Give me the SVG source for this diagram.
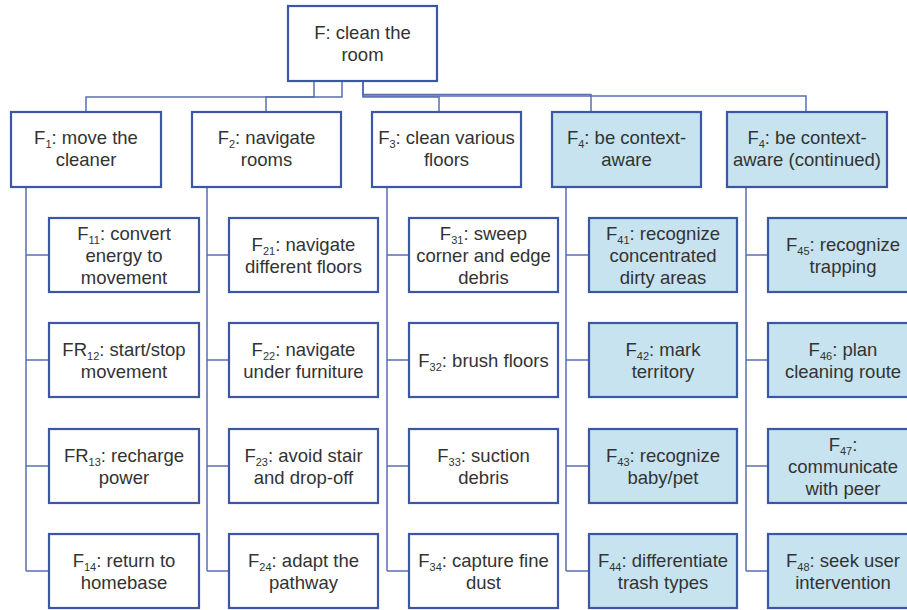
<svg xmlns="http://www.w3.org/2000/svg" width="907" height="610" viewBox="0 0 907 610">
<style>
.box{fill:#ffffff;stroke:#3b56a5;stroke-width:2.2}
.ctx{fill:#c6e3ef;stroke:#3b56a5;stroke-width:2.2}
.con{fill:none;stroke:#5a6fb3;stroke-width:1.5}
text{font-family:"Liberation Sans",Arial,sans-serif;font-size:18.5px;fill:#333333;text-anchor:middle}
.s{font-size:11px}
</style>
<rect width="907" height="610" fill="#ffffff"/>
<g id="connectors">
<path class="con" d="M314,81 V97 H86 V112"/>
<path class="con" d="M342,81 V97 H266 V112"/>
<path class="con" d="M363,81 V97 H439 V112"/>
<path class="con" d="M363,81 V94.5 H591 V112"/>
<path class="con" d="M363,81 V96 H806 V112"/>
<path class="con" d="M26,187 V571 M26,255 H49 M26,360 H49 M26,466 H49 M26,571 H49"/>
<path class="con" d="M207,187 V571 M207,255 H229 M207,360 H229 M207,466 H229 M207,571 H229"/>
<path class="con" d="M387,187 V571 M387,255 H409 M387,360 H409 M387,466 H409 M387,571 H409"/>
<path class="con" d="M566,187 V571 M566,255 H589 M566,360 H589 M566,466 H589 M566,571 H589"/>
<path class="con" d="M746,187 V571 M746,255 H768 M746,360 H768 M746,466 H768 M746,571 H768"/>
</g>
<g id="F">
<rect class="box" x="288" y="6" width="149" height="75"/>
<text x="362.5" y="38.5">F: clean the</text>
<text x="362.5" y="61">room</text>
</g>
<g id="F1">
<rect class="box" x="11" y="112" width="150" height="75"/>
<text x="86" y="143.5">F<tspan class="s" dy="4">1</tspan><tspan dy="-4">: move the</tspan></text>
<text x="86" y="166">cleaner</text>
</g>
<g id="F2">
<rect class="box" x="192" y="112" width="149" height="75"/>
<text x="266.5" y="143.5">F<tspan class="s" dy="4">2</tspan><tspan dy="-4">: navigate</tspan></text>
<text x="266.5" y="166">rooms</text>
</g>
<g id="F3">
<rect class="box" x="372" y="112" width="149" height="75"/>
<text x="446.5" y="143.5">F<tspan class="s" dy="4">3</tspan><tspan dy="-4">: clean various</tspan></text>
<text x="446.5" y="166">floors</text>
</g>
<g id="F4">
<rect class="ctx" x="552" y="112" width="149" height="75"/>
<text x="626.5" y="143.5">F<tspan class="s" dy="4">4</tspan><tspan dy="-4">: be context-</tspan></text>
<text x="626.5" y="166">aware</text>
</g>
<g id="F4c">
<rect class="ctx" x="727" y="112" width="160" height="75"/>
<text x="807" y="143.5">F<tspan class="s" dy="4">4</tspan><tspan dy="-4">: be context-</tspan></text>
<text x="807" y="166">aware (continued)</text>
</g>
<g id="F11">
<rect class="box" x="49" y="218" width="150" height="74"/>
<text x="124" y="239.5">F<tspan class="s" dy="4">11</tspan><tspan dy="-4">: convert</tspan></text>
<text x="124" y="261.5">energy to</text>
<text x="124" y="283.5">movement</text>
</g>
<g id="FR12">
<rect class="box" x="49" y="323" width="150" height="74"/>
<text x="124" y="355.5">FR<tspan class="s" dy="4">12</tspan><tspan dy="-4">: start/stop</tspan></text>
<text x="124" y="377.5">movement</text>
</g>
<g id="FR13">
<rect class="box" x="49" y="429" width="150" height="74"/>
<text x="124" y="461.5">FR<tspan class="s" dy="4">13</tspan><tspan dy="-4">: recharge</tspan></text>
<text x="124" y="483.5">power</text>
</g>
<g id="F14">
<rect class="box" x="49" y="534" width="150" height="74"/>
<text x="124" y="566.5">F<tspan class="s" dy="4">14</tspan><tspan dy="-4">: return to</tspan></text>
<text x="124" y="588.5">homebase</text>
</g>
<g id="F21">
<rect class="box" x="229" y="218" width="149" height="74"/>
<text x="303.5" y="250.5">F<tspan class="s" dy="4">21</tspan><tspan dy="-4">: navigate</tspan></text>
<text x="303.5" y="272.5">different floors</text>
</g>
<g id="F22">
<rect class="box" x="229" y="323" width="149" height="74"/>
<text x="303.5" y="355.5">F<tspan class="s" dy="4">22</tspan><tspan dy="-4">: navigate</tspan></text>
<text x="303.5" y="377.5">under furniture</text>
</g>
<g id="F23">
<rect class="box" x="229" y="429" width="149" height="74"/>
<text x="303.5" y="461.5">F<tspan class="s" dy="4">23</tspan><tspan dy="-4">: avoid stair</tspan></text>
<text x="303.5" y="483.5">and drop-off</text>
</g>
<g id="F24">
<rect class="box" x="229" y="534" width="149" height="74"/>
<text x="303.5" y="566.5">F<tspan class="s" dy="4">24</tspan><tspan dy="-4">: adapt the</tspan></text>
<text x="303.5" y="588.5">pathway</text>
</g>
<g id="F31">
<rect class="box" x="409" y="218" width="149" height="74"/>
<text x="483.5" y="239.5">F<tspan class="s" dy="4">31</tspan><tspan dy="-4">: sweep</tspan></text>
<text x="483.5" y="261.5">corner and edge</text>
<text x="483.5" y="283.5">debris</text>
</g>
<g id="F32">
<rect class="box" x="409" y="323" width="149" height="74"/>
<text x="483.5" y="366.5">F<tspan class="s" dy="4">32</tspan><tspan dy="-4">: brush floors</tspan></text>
</g>
<g id="F33">
<rect class="box" x="409" y="429" width="149" height="74"/>
<text x="483.5" y="461.5">F<tspan class="s" dy="4">33</tspan><tspan dy="-4">: suction</tspan></text>
<text x="483.5" y="483.5">debris</text>
</g>
<g id="F34">
<rect class="box" x="409" y="534" width="149" height="74"/>
<text x="483.5" y="566.5">F<tspan class="s" dy="4">34</tspan><tspan dy="-4">: capture fine</tspan></text>
<text x="483.5" y="588.5">dust</text>
</g>
<g id="F41">
<rect class="ctx" x="589" y="218" width="148" height="74"/>
<text x="663" y="239.5">F<tspan class="s" dy="4">41</tspan><tspan dy="-4">: recognize</tspan></text>
<text x="663" y="261.5">concentrated</text>
<text x="663" y="283.5">dirty areas</text>
</g>
<g id="F42">
<rect class="ctx" x="589" y="323" width="148" height="74"/>
<text x="663" y="355.5">F<tspan class="s" dy="4">42</tspan><tspan dy="-4">: mark</tspan></text>
<text x="663" y="377.5">territory</text>
</g>
<g id="F43">
<rect class="ctx" x="589" y="429" width="148" height="74"/>
<text x="663" y="461.5">F<tspan class="s" dy="4">43</tspan><tspan dy="-4">: recognize</tspan></text>
<text x="663" y="483.5">baby/pet</text>
</g>
<g id="F44">
<rect class="ctx" x="589" y="534" width="148" height="74"/>
<text x="663" y="566.5">F<tspan class="s" dy="4">44</tspan><tspan dy="-4">: differentiate</tspan></text>
<text x="663" y="588.5">trash types</text>
</g>
<g id="F45">
<rect class="ctx" x="768" y="218" width="150" height="74"/>
<text x="843" y="250.5">F<tspan class="s" dy="4">45</tspan><tspan dy="-4">: recognize</tspan></text>
<text x="843" y="272.5">trapping</text>
</g>
<g id="F46">
<rect class="ctx" x="768" y="323" width="150" height="74"/>
<text x="843" y="355.5">F<tspan class="s" dy="4">46</tspan><tspan dy="-4">: plan</tspan></text>
<text x="843" y="377.5">cleaning route</text>
</g>
<g id="F47">
<rect class="ctx" x="768" y="429" width="150" height="74"/>
<text x="843" y="450.5">F<tspan class="s" dy="4">47</tspan><tspan dy="-4">:</tspan></text>
<text x="843" y="472.5">communicate</text>
<text x="843" y="494.5">with peer</text>
</g>
<g id="F48">
<rect class="ctx" x="768" y="534" width="150" height="74"/>
<text x="843" y="566.5">F<tspan class="s" dy="4">48</tspan><tspan dy="-4">: seek user</tspan></text>
<text x="843" y="588.5">intervention</text>
</g>
</svg>
